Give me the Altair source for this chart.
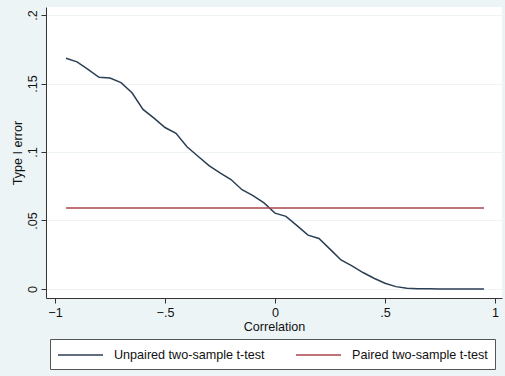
import altair as alt
import pandas as pd

# Correlation values (x)
correlation = [-0.95, -0.90, -0.85, -0.80, -0.75, -0.70, -0.65, -0.60, -0.55, -0.50,
               -0.45, -0.40, -0.35, -0.30, -0.25, -0.20, -0.15, -0.10, -0.05, 0.00,
               0.05, 0.10, 0.15, 0.20, 0.25, 0.30, 0.35, 0.40, 0.45, 0.50,
               0.55, 0.60, 0.65, 0.70, 0.75, 0.80, 0.85, 0.90, 0.95]

# Type I error, unpaired two-sample t-test
unpaired = [0.1685, 0.1658, 0.1604, 0.1546, 0.1541, 0.1507, 0.1433, 0.1311, 0.1248, 0.1179,
            0.1136, 0.1038, 0.0969, 0.0901, 0.0847, 0.0799, 0.0725, 0.0681, 0.0628, 0.0554,
            0.0530, 0.0462, 0.0393, 0.0369, 0.0291, 0.0212, 0.0168, 0.0120, 0.0078, 0.0042,
            0.0017, 0.0005, 0.0002, 0.0001, 0.0, 0.0, 0.0, 0.0, 0.0]

# Type I error, paired two-sample t-test
paired = [0.0591] * len(correlation)

series_names = ["Unpaired two-sample t-test", "Paired two-sample t-test"]
series_colors = ["#2b3e54", "#a9444c"]

x_ticks = [-1, -0.5, 0, 0.5, 1]
y_ticks = [0, 0.05, 0.1, 0.15, 0.2]

df = pd.concat([
    pd.DataFrame({"Correlation": correlation, "err": unpaired, "series": series_names[0], "order": 0}),
    pd.DataFrame({"Correlation": correlation, "err": paired, "series": series_names[1], "order": 1}),
])

FONT = "Liberation Sans"
FS = 12.6
LBL = "datum.value == 0 ? '0' : replace(format(datum.value, '.2~f'), '0.', '.')"

chart = alt.Chart(df).mark_line(strokeWidth=1.5, interpolate="linear").encode(
    x=alt.X("Correlation:Q",
            scale=alt.Scale(domain=[-1.041, 1.032], nice=False, zero=False),
            axis=alt.Axis(values=x_ticks, title="Correlation", grid=False,
                          labelExpr=LBL,
                          tickSize=5, labelPadding=3, titlePadding=2)),
    y=alt.Y("err:Q",
            scale=alt.Scale(domain=[-0.0066, 0.2059], nice=False, zero=False),
            axis=alt.Axis(values=y_ticks, title="Type I error", grid=True,
                          gridColor="#eef3f5", gridWidth=1,
                          labelExpr=LBL,
                          labelAngle=270, labelAlign="center", labelBaseline="bottom",
                          tickSize=5, labelPadding=2, titlePadding=2)),
    color=alt.Color("series:N",
                    scale=alt.Scale(domain=series_names, range=series_colors),
                    legend=alt.Legend(orient="none", legendX=4, legendY=332,
                                      direction="horizontal", title=None,
                                      symbolType="M-1,0H5", symbolSize=225,
                                      symbolStrokeWidth=1.5,
                                      labelFontSize=FS, labelFont=FONT, labelColor="#111",
                                      labelOffset=40, labelLimit=300,
                                      columnPadding=28, padding=7,
                                      fillColor="white", strokeColor="#555")),
    detail="order:O",
).properties(
    width=456, height=291,
    background="#ecf4f6",
    padding={"left": 46, "top": 7, "right": 3, "bottom": 78},
    autosize=alt.AutoSizeParams(type="none"),
).configure_view(
    fill="white", stroke=None
).configure_axis(
    labelFont=FONT, titleFont=FONT, labelFontSize=FS, titleFontSize=FS,
    titleFontWeight="normal", labelColor="#111", titleColor="#111",
    domainColor="#333", tickColor="#333", domainWidth=1, tickWidth=1,
)

chart.save("out.html", embed_options={"renderer": "svg", "actions": False})
